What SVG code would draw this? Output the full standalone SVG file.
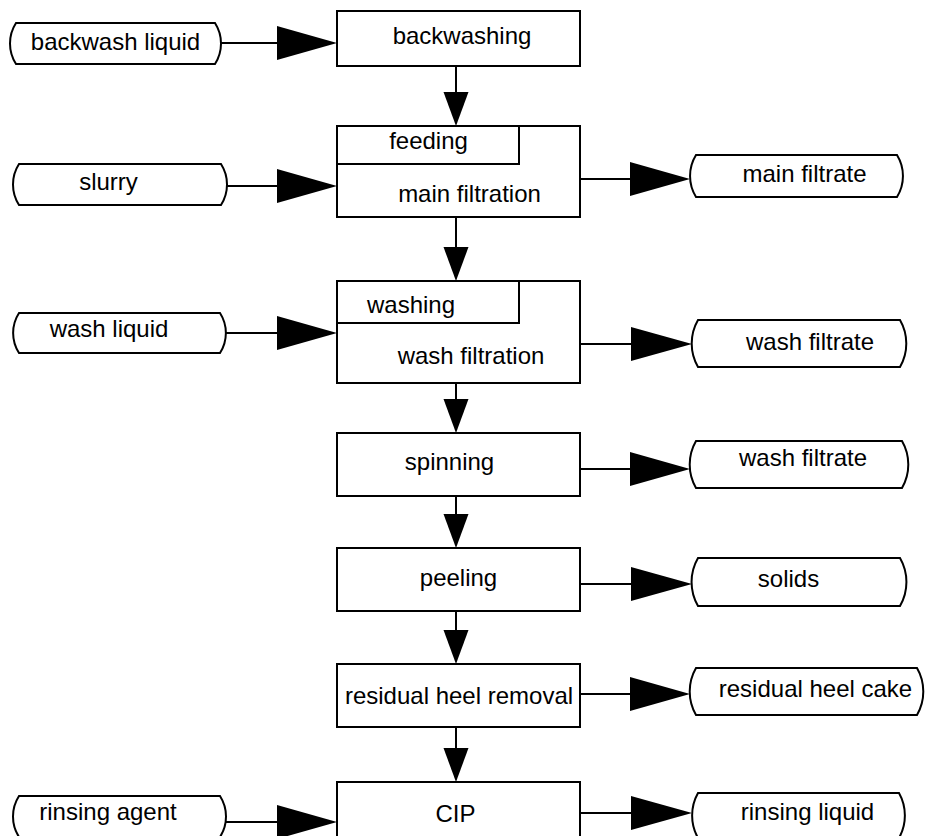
<svg xmlns="http://www.w3.org/2000/svg" width="925" height="836" viewBox="0 0 925 836">
<style>
.box{fill:#fff;stroke:#000;stroke-width:2}
.term{fill:#fff;stroke:#000;stroke-width:2}
.ln{stroke:#000;stroke-width:2;fill:none}
.hd{fill:#000;stroke:none}
text{font-family:"Liberation Sans",Arial,sans-serif;font-size:24px;fill:#000;text-anchor:middle}
</style>
<rect width="925" height="836" fill="#fff"/>
<g id="connectors">
<line class="ln" x1="221" y1="43" x2="278" y2="43"/><polygon class="hd" points="277,26 337,43 277,60"/>
<line class="ln" x1="456" y1="66" x2="456" y2="93"/><polygon class="hd" points="443.5,92 468.5,92 456,126"/>
<line class="ln" x1="227" y1="186" x2="278" y2="186"/><polygon class="hd" points="277,169 337,186 277,203"/>
<line class="ln" x1="580" y1="179" x2="631" y2="179"/><polygon class="hd" points="630,162 690,179 630,196"/>
<line class="ln" x1="456" y1="217" x2="456" y2="248"/><polygon class="hd" points="443.5,247 468.5,247 456,281"/>
<line class="ln" x1="226" y1="333" x2="278" y2="333"/><polygon class="hd" points="277,316 337,333 277,350"/>
<line class="ln" x1="580" y1="344" x2="632" y2="344"/><polygon class="hd" points="631,327 692,344 631,361"/>
<line class="ln" x1="456" y1="383" x2="456" y2="400"/><polygon class="hd" points="443.5,399 468.5,399 456,433"/>
<line class="ln" x1="580" y1="469" x2="631" y2="469"/><polygon class="hd" points="630,452 690,469 630,486"/>
<line class="ln" x1="456" y1="496" x2="456" y2="515"/><polygon class="hd" points="443.5,514 468.5,514 456,548"/>
<line class="ln" x1="580" y1="584" x2="632" y2="584"/><polygon class="hd" points="631,567 692,584 631,601"/>
<line class="ln" x1="456" y1="611" x2="456" y2="631"/><polygon class="hd" points="443.5,630 468.5,630 456,664"/>
<line class="ln" x1="580" y1="694" x2="631" y2="694"/><polygon class="hd" points="630,677 690,694 630,711"/>
<line class="ln" x1="456" y1="727" x2="456" y2="749"/><polygon class="hd" points="443.5,748 468.5,748 456,782"/>
<line class="ln" x1="226" y1="822" x2="278" y2="822"/><polygon class="hd" points="277,805 337,822 277,839"/>
<line class="ln" x1="580" y1="813" x2="632" y2="813"/><polygon class="hd" points="631,796 692,813 631,830"/>
</g>
<g id="backwash-liquid"><path class="term" d="M16 23 H215 A38 38 0 0 1 215 64 H16 A38 38 0 0 1 16 23 Z"/><text x="115.5" y="50">backwash liquid</text></g>
<g id="backwashing"><rect class="box" x="337" y="11" width="243" height="55"/><text x="462" y="44">backwashing</text></g>
<g id="slurry"><path class="term" d="M19 164 H221 A38 38 0 0 1 221 205 H19 A38 38 0 0 1 19 164 Z"/><text x="108.5" y="190">slurry</text></g>
<g id="main-filtration"><rect class="box" x="337" y="126" width="243" height="91"/><rect class="box" x="337" y="126" width="182" height="38"/><text x="428.5" y="149">feeding</text><text x="469.5" y="202">main filtration</text></g>
<g id="main-filtrate"><path class="term" d="M696 155 H897 A40 40 0 0 1 897 197 H696 A40 40 0 0 1 696 155 Z"/><text x="804.5" y="182">main filtrate</text></g>
<g id="wash-liquid"><path class="term" d="M19 313 H220 A37 37 0 0 1 220 353 H19 A37 37 0 0 1 19 313 Z"/><text x="109" y="337">wash liquid</text></g>
<g id="wash-filtration"><rect class="box" x="337" y="281" width="243" height="102"/><rect class="box" x="337" y="281" width="182" height="42"/><text x="411" y="313">washing</text><text x="471" y="364">wash filtration</text></g>
<g id="wash-filtrate-1"><path class="term" d="M698 320 H900 A47 47 0 0 1 900 367 H698 A47 47 0 0 1 698 320 Z"/><text x="810" y="350">wash filtrate</text></g>
<g id="spinning"><rect class="box" x="337" y="433" width="243" height="63"/><text x="449.5" y="470">spinning</text></g>
<g id="wash-filtrate-2"><path class="term" d="M696 441 H902 A47 47 0 0 1 902 488 H696 A47 47 0 0 1 696 441 Z"/><text x="803" y="466">wash filtrate</text></g>
<g id="peeling"><rect class="box" x="337" y="548" width="243" height="63"/><text x="458.5" y="586">peeling</text></g>
<g id="solids"><path class="term" d="M698 558 H900 A48 48 0 0 1 900 606 H698 A48 48 0 0 1 698 558 Z"/><text x="788.5" y="587">solids</text></g>
<g id="residual-heel-removal"><rect class="box" x="337" y="664" width="243" height="63"/><text x="459" y="704">residual heel removal</text></g>
<g id="residual-heel-cake"><path class="term" d="M696 668 H917 A47 47 0 0 1 917 715 H696 A47 47 0 0 1 696 668 Z"/><text x="815.5" y="697">residual heel cake</text></g>
<g id="rinsing-agent"><path class="term" d="M19 796 H220 A38 38 0 0 1 220 837 H19 A38 38 0 0 1 19 796 Z"/><text x="108" y="820">rinsing agent</text></g>
<g id="cip"><rect class="box" x="337" y="782" width="243" height="60"/><text x="455.5" y="822">CIP</text></g>
<g id="rinsing-liquid"><path class="term" d="M698 793 H899 A46 46 0 0 1 899 838 H698 A46 46 0 0 1 698 793 Z"/><text x="807.5" y="820">rinsing liquid</text></g>
</svg>
